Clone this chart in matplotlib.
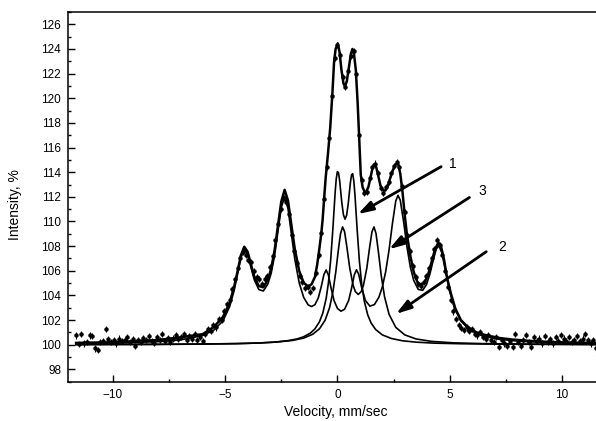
import numpy as np
import matplotlib.pyplot as plt
from matplotlib.ticker import MultipleLocator

plt.rcParams["font.family"] = ["Liberation Sans", "DejaVu Sans"]

# measured spectrum: channel velocity (mm/s) and relative intensity (%)
VELOCITY = np.linspace(-11.64, 11.76, 196)
INTENSITY = [
    # left wing
    100.75, 100.05, 100.9, 100.1, 100.2, 100.75, 100.7, 99.7, 99.55, 100.25,
    100.3, 101.25, 100.45, 100.2, 100.35, 100.1, 100.5, 100.3, 100.4, 100.6,
    100.2, 100.45, 99.9, 100.4, 100.2, 100.55, 100.35, 100.7, 100.3, 100.15,
    100.6, 100.4, 100.85, 100.3, 100.55, 100.25, 100.5, 100.8, 100.45, 100.6,
    100.9, 100.35, 100.7, 100.5, 100.85, 100.4, 100.6, 100.3,
    # lines 1-2
    100.9, 101.3, 101.1, 101.6, 101.4, 102.1, 102.0, 102.7, 103.3, 103.6,
    104.5, 105.3, 106.2, 107.0, 107.5, 107.3, 106.9, 106.7, 106.0, 105.5,
    105.3, 104.9, 105.3, 105.6, 106.3, 107.2, 108.5, 109.8, 111.0, 111.9,
    111.6, 110.6, 108.9, 107.6, 106.6, 105.6, 105.1, 104.6, 104.7, 104.3,
    104.6, 105.8,
    # centre and lines 5-6
    107.3, 109.1, 111.8, 114.4, 116.8, 120.2, 123.3, 124.3, 123.5, 121.7,
    120.9, 122.2, 123.4, 123.8, 122.0, 117.0, 113.4, 112.3, 112.4, 113.5,
    114.4, 114.7, 113.9, 112.7, 112.3, 112.8, 113.2, 113.9, 114.5, 114.8,
    114.4, 112.9, 110.8, 108.9, 107.6, 106.4, 105.5, 104.9, 104.8, 105.1,
    105.6, 106.2, 107.0, 107.8, 108.5, 108.1, 107.3, 106.0, 104.7, 103.6,
    102.7, 102.1, 101.6, 101.35, 101.2, 101.4, 101.1, 101.3, 100.9, 100.75,
    101.0, 100.6,
    # right wing
    100.5, 100.8, 100.4, 100.2, 100.6, 99.8, 100.4, 100.1, 99.9, 100.3,
    99.8, 100.9, 100.2, 99.9, 100.4, 100.8, 100.2, 99.8, 100.6, 100.3,
    100.5, 100.1, 100.7, 100.2, 100.45, 100.1, 100.6, 100.3, 100.8, 100.5,
    100.3, 100.6, 100.2, 100.4, 100.7, 100.3, 100.5, 100.9, 100.4, 100.1,
    100.35, 99.7, 100.2, 100.4,
]
INTENSITY_ERR = 0.25

# fitted envelope
FIT_V = [
    -11.64, -10, -8, -7, -6, -5.5, -5.1, -4.8, -4.6, -4.45,
    -4.3, -4.15, -4.0, -3.85, -3.7, -3.5, -3.3, -3.1, -2.95, -2.8,
    -2.65, -2.5, -2.35, -2.2, -2.05, -1.9, -1.7, -1.5, -1.3, -1.15,
    -1.0, -0.9, -0.81, -0.72, -0.66, -0.59, -0.52, -0.42, -0.32, -0.22,
    -0.15, -0.08, 0.02, 0.1, 0.18, 0.27, 0.34, 0.42, 0.52, 0.6,
    0.67, 0.74, 0.82, 0.9, 0.97, 1.04, 1.12, 1.2, 1.28, 1.38,
    1.48, 1.57, 1.65, 1.73, 1.82, 1.92, 2.02, 2.13, 2.25, 2.38,
    2.5, 2.6, 2.7, 2.8, 2.9, 3.0, 3.1, 3.25, 3.4, 3.57,
    3.75, 3.9, 4.05, 4.2, 4.35, 4.5, 4.62, 4.75, 4.9, 5.05,
    5.25, 5.5, 5.8, 6.2, 6.6, 7.2, 7.8, 8.5, 9.5, 10.5,
    11.76,
]
FIT_I = [
    100.15, 100.2, 100.38, 100.6, 100.86, 101.45, 102.25, 103.4, 104.7, 105.92,
    107.25, 107.95, 107.55, 106.51, 105.5, 104.76, 104.66, 105.26, 106.17, 107.63,
    109.63, 111.62, 112.57, 111.69, 109.71, 107.79, 105.98, 105.02, 104.73, 104.91,
    105.5, 106.5, 107.7, 109.0, 110.1, 111.9, 113.6, 115.5, 117.6, 120.5,
    122.9, 124.0, 124.45, 123.7, 122.3, 121.2, 120.95, 121.4, 122.6, 123.6,
    124.0, 123.6, 122.3, 119.7, 116.8, 113.8, 112.8, 112.45, 112.4, 112.8,
    113.6, 114.4, 114.65, 114.4, 113.7, 112.9, 112.55, 112.5, 112.9, 113.7,
    114.3, 114.65, 114.7, 113.9, 112.4, 110.5, 108.9, 107.2, 105.9, 105.05,
    104.85, 105.1, 105.75, 106.75, 107.75, 108.3, 107.95, 106.9, 105.3, 104.2,
    102.95, 102.0, 101.45, 101.0, 100.78, 100.55, 100.42, 100.32, 100.22, 100.17,
    100.14,
]

# subspectrum 3 (sextet)
SEXTET_V = [
    -11.64, -10, -8, -7, -6, -5.5, -5.1, -4.8, -4.6, -4.45,
    -4.3, -4.15, -4.0, -3.85, -3.7, -3.5, -3.3, -3.1, -2.95, -2.8,
    -2.65, -2.5, -2.35, -2.2, -2.05, -1.9, -1.7, -1.5, -1.3, -1.15,
    -1.0, -0.85, -0.72, -0.6, -0.5, -0.4, -0.28, -0.15, 0.0, 0.16,
    0.32, 0.5, 0.63, 0.75, 0.85, 0.95, 1.08, 1.25, 1.45, 1.65,
    1.85, 2.0, 2.15, 2.3, 2.45, 2.6, 2.7, 2.8, 2.95, 3.1,
    3.25, 3.4, 3.6, 3.8, 3.97, 4.12, 4.27, 4.4, 4.52, 4.65,
    4.8, 5.0, 5.2, 5.5, 5.9, 6.5, 7.2, 8.2, 9.5, 11.76,
]
SEXTET_I = [
    100.09, 100.13, 100.25, 100.39, 100.75, 101.19, 101.93, 103.09, 104.40, 105.72,
    107.05, 107.74, 107.33, 106.27, 105.26, 104.48, 104.36, 104.92, 105.80, 107.22,
    109.18, 111.12, 112.02, 111.05, 109.00, 106.97, 105.01, 103.83, 103.23, 103.10,
    103.25, 103.80, 104.71, 105.70, 106.07, 105.64, 104.58, 103.59, 102.95, 102.72,
    102.88, 103.59, 104.58, 105.65, 106.08, 105.71, 104.64, 103.58, 103.13, 103.26,
    103.86, 104.68, 105.92, 107.68, 109.82, 111.67, 112.12, 111.73, 109.97, 107.93,
    106.30, 105.22, 104.49, 104.42, 104.89, 105.74, 106.87, 107.76, 108.03, 107.48,
    106.14, 104.33, 103.05, 101.93, 101.18, 100.69, 100.44, 100.27, 100.17, 100.10,
]

# subspectrum 1 (doublet)
DOUBLET1_V = [
    -11.64, -8, -6, -4.5, -3.5, -2.8, -2.2, -1.8, -1.5, -1.2,
    -1.0, -0.8, -0.65, -0.5, -0.4, -0.3, -0.2, -0.1, -0.05, 0.0,
    0.05, 0.1, 0.2, 0.27, 0.34, 0.41, 0.48, 0.58, 0.63, 0.68,
    0.73, 0.78, 0.88, 0.98, 1.08, 1.2, 1.35, 1.5, 1.7, 2.0,
    2.4, 2.9, 3.5, 4.3, 5.5, 7.0, 9.0, 11.76,
]
DOUBLET1_I = [
    100.01, 100.03, 100.05, 100.09, 100.14, 100.21, 100.33, 100.47, 100.65, 100.95,
    101.29, 101.86, 102.57, 103.76, 105.02, 106.86, 109.45, 112.37, 113.49, 114.05,
    113.95, 113.31, 111.47, 110.54, 110.19, 110.50, 111.40, 113.17, 113.78, 113.88,
    113.31, 112.21, 109.34, 106.78, 104.96, 103.52, 102.43, 101.77, 101.24, 100.80,
    100.51, 100.32, 100.21, 100.13, 100.08, 100.05, 100.03, 100.01,
]

# subspectrum 2 (doublet)
DOUBLET2_V = [
    -11.64, -8, -6, -4.5, -3.5, -2.7, -2.0, -1.5, -1.1, -0.8,
    -0.55, -0.35, -0.2, -0.07, 0.05, 0.14, 0.23, 0.32, 0.42, 0.55,
    0.7, 0.8, 0.93, 1.06, 1.16, 1.31, 1.44, 1.54, 1.63, 1.72,
    1.82, 1.95, 2.1, 2.3, 2.6, 3.0, 3.5, 4.2, 5.2, 6.5,
    8.5, 11.76,
]
DOUBLET2_I = [
    100.02, 100.03, 100.06, 100.09, 100.14, 100.22, 100.35, 100.54, 100.85, 101.29,
    101.98, 103.00, 104.29, 105.94, 107.80, 109.02, 109.56, 109.17, 107.96, 106.22,
    104.82, 104.31, 104.08, 104.31, 104.82, 106.22, 107.96, 109.17, 109.56, 109.02,
    107.64, 105.65, 103.89, 102.47, 101.41, 100.80, 100.47, 100.27, 100.15, 100.09,
    100.05, 100.02,
]

# component markers: label, label position, arrow tail, arrow tip
MARK_LABELS = ["1", "3", "2"]
MARK_TEXT_POS = [(5.14, 114.7), (6.46, 112.5), (7.35, 107.95)]
MARK_TAIL = [(4.62, 114.45), (5.88, 111.95), (6.63, 107.55)]
MARK_TIP = [(0.91, 110.6), (2.30, 107.75), (2.61, 102.5)]


def main():
    fig = plt.figure(figsize=(5.96, 4.21), dpi=100)
    ax = fig.add_axes([68 / 596, 1 - 381.7 / 421, 538.8 / 596, 369.7 / 421])

    ax.errorbar(VELOCITY, INTENSITY, yerr=INTENSITY_ERR, fmt="o", ms=2.2,
                color="black", elinewidth=0.8, capsize=0, zorder=2)
    ax.plot(FIT_V, FIT_I, color="black", lw=1.8, zorder=3)
    for v, i in [(SEXTET_V, SEXTET_I), (DOUBLET1_V, DOUBLET1_I),
                 (DOUBLET2_V, DOUBLET2_I)]:
        ax.plot(v, i, color="black", lw=1.2, zorder=3)

    for lab, tpos, tail, tip in zip(MARK_LABELS, MARK_TEXT_POS, MARK_TAIL, MARK_TIP):
        ax.annotate("", xy=tip, xytext=tail,
                    arrowprops=dict(arrowstyle="-|>,head_length=0.9,head_width=0.28",
                                    mutation_scale=10, color="black", lw=2.0,
                                    shrinkA=0, shrinkB=0))
        ax.text(tpos[0], tpos[1], lab, fontsize=10, ha="center", va="center")

    ax.set_xlim(-12, 12)
    ax.set_ylim(97, 127)
    ax.xaxis.set_major_locator(MultipleLocator(5))
    ax.xaxis.set_minor_locator(MultipleLocator(2.5))
    ax.yaxis.set_major_locator(MultipleLocator(2))
    ax.yaxis.set_minor_locator(MultipleLocator(1))
    ax.set_yticks(np.arange(98, 127, 2))
    ax.tick_params(which="both", direction="in", top=False, right=False,
                   labelsize=8.5, width=1.0)
    ax.tick_params(which="major", length=5, pad=5)
    ax.tick_params(which="minor", length=2.5)
    for s in ax.spines.values():
        s.set_linewidth(1.1)

    ax.set_xlabel("Velocity, mm/sec", fontsize=10)
    ax.set_ylabel("Intensity, %", fontsize=10)
    ax.xaxis.set_label_coords(0.497, -0.062)
    ax.yaxis.set_label_coords(-0.085, 0.48)

    fig.savefig("out.png", dpi=100)
    plt.close(fig)


if __name__ == "__main__":
    main()
